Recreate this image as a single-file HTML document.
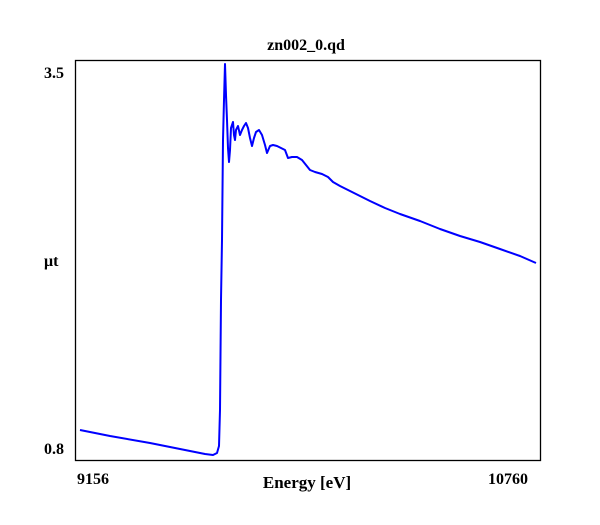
<!DOCTYPE html>
<html><head><style>body{margin:0;background:#fff}</style></head><body>
<svg width="600" height="520" xmlns="http://www.w3.org/2000/svg" font-family="Liberation Serif, serif" font-weight="bold">
<rect width="600" height="520" fill="#fff"/>
<text x="306" y="50" font-size="16" text-anchor="middle">zn002_0.qd</text>
<rect x="75.5" y="60.5" width="465" height="400" fill="none" stroke="#000" stroke-width="1.3"/>
<text x="44" y="78" font-size="16">3.5</text>
<text x="44" y="266" font-size="16">μt</text>
<text x="44" y="454" font-size="16">0.8</text>
<text x="77" y="484" font-size="16">9156</text>
<text x="488" y="484" font-size="16">10760</text>
<text x="307" y="488" font-size="17" text-anchor="middle">Energy [eV]</text>
<polyline fill="none" stroke="#0000ff" stroke-width="2" stroke-linejoin="round" points="80,430 110,436 150,443 185,450 205,454 213,455 217,453 219,446 220,410 221,300 222,240 223,140 224,100 225,64 226,95 227,120 228,148 229,162 230,150 231,128 233,122 234,135 235,140 236,130 238,126 240,135 242,130 244,126 246,123 248,128 250,138 252,146 254,138 256,132 259,130 262,135 265,145 267,153 270,146 273,145 277,146 281,148 285,150 288,158 292,157 297,157 302,160 306,165 310,170 315,172 322,174 328,177 333,182 340,186 350,191 360,196 370,201 385,208 400,214 420,221 440,229 460,236 480,242 500,249 520,256 536,263"/>
</svg>
</body></html>
